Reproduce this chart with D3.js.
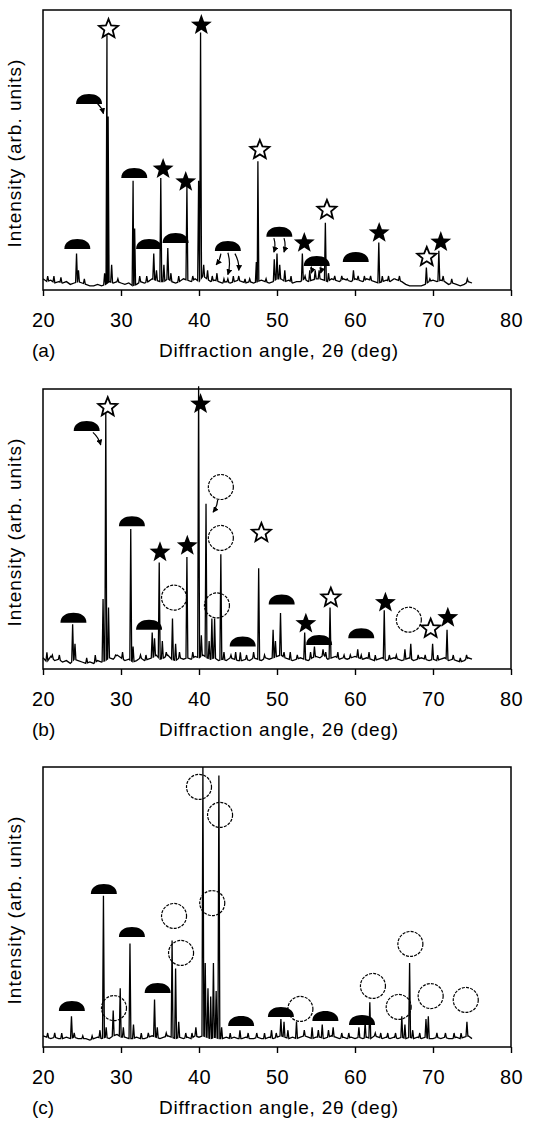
<!DOCTYPE html>
<html><head><meta charset="utf-8">
<script src="https://cdn.jsdelivr.net/npm/d3@7"></script>
<style>
body{margin:0;background:#fff;}
svg{display:block;}
text{font-family:"Liberation Sans",Arial,Helvetica,sans-serif;fill:#000;}
</style></head>
<body>
<svg id="chart" width="558" height="1121"></svg>
<script>
// ---------------- DATA ----------------
const xTicks = [20, 30, 40, 50, 60, 70, 80];
const panelLabels = ["(a)", "(b)", "(c)"];
const xTitle = "Diffraction angle, 2\u03b8 (deg)";
const yTitle = "Intensity (arb. units)";
const baseStart = 20, baseStep = 0.5;

// baseline intensity (%), 20.0 .. 75.0 every 0.5 deg
const baseA = [4,3,3.5,2.5,3,2.5,3,2,2.5,3,2.5,
  2,1.5,1.5,2,1.5,2,3,2.5,3,2.5,
  2,2.5,1.5,2,3,2.5,3,4,3.5,3,
  3,4,3,2.5,3,4,3.5,3,4,3,
  5,4,3,3.5,3,2.5,3,2.5,3,3.5,
  3,2.5,3,2.5,3,3.5,3,2.5,3,4,
  4,3,3.5,2.5,3,3,4,3,3.5,4,
  4,3.5,3,4,3.5,3,4,3.5,3,4,
  3.5,3,4,3.5,3,2.5,3,3.5,3,4,
  3.5,3,2,1.5,1.5,1.5,1.5,2,3,3.5,
  3,3.5,3,2,2.5,2,1.5,2,3,2.5];
const baseB = [4,2.5,4.5,3,3.5,2.5,3,2,3.5,3,2.5,
  2,2.5,2,3,2.5,3,4,3.5,5,4,
  3,3.5,2.5,3,4,3,3.5,4,5,3.5,
  4,5,3.5,3,4,3.5,4,3.5,4.5,4,
  5,4,3.5,4,3,3.5,3,4,3.5,3,
  3,3.5,3,4,3.5,3,4,3.5,4,4.5,
  5,4,3.5,3,3.5,4,3.5,3,4,4.5,
  4,5,3.5,4,4.5,3.5,4,3.5,4,4.5,
  4,3.5,4,3.5,3,3.5,4,3,3.5,4,
  3.5,3,3.5,4,3,3.5,4,3.5,3,3.5,
  3,3.5,4,3,3.5,3,2.5,3,4,3.5];
const baseC = [4,3.5,3,3.5,3,3,3.5,3,3.5,3,3,
  3,2.5,3,3.5,3,3.5,3,4,4.5,3.5,
  3.5,3,3,3.5,3,3,3.5,4,3.5,3,
  3.5,4,3.5,3,3.5,3,3.5,3,4,3.5,
  4,3.5,3,3.5,3,3,3.5,3,3.5,3,
  3,3.5,3,3,3.5,3,3,3.5,3,3.5,
  4,3.5,3,3.5,3,3.5,4,3.5,3,3.5,
  3.5,3,3.5,4,3.5,3,3.5,3,3.5,3,
  3.5,3,3.5,3,4,3.5,3,3.5,3,3.5,
  3,3.5,3,3.5,3,3.5,3,3.5,3,3,
  3.5,3,3.5,3,3,3.5,3,3.5,4,3];

// peaks [angle, intensity %]
const peaksA = [[20.6,5],[21.4,5],[22.3,4.5],[24.3,13],[24.55,7],[25.3,4],[27.9,6],[28.2,91],[28.35,62],[28.8,9],
  [29.6,4],[31.55,39],[31.75,22],[32.4,5],[33.3,5],[34.2,13],[34.55,7],[35.1,40],[35.5,9],[36.0,15],[36.4,6],
  [37.4,5],[38.45,37],[39.2,5],[39.95,39],[40.2,92],[40.6,9],[41.1,7],[41.7,5],[42.3,6],[43.2,4],[43.7,4],[44.4,5],[45.1,5],
  [45.9,4],[46.5,4],[47.35,10],[47.55,46],[48.6,4],[49.65,11],[50.0,13],[50.35,9],[51.0,7],[51.8,5],[53.25,13],[53.6,5],
  [54.2,7],[54.9,7],[55.4,7],[56.2,24],[56.6,6],[57.4,5],[58.3,5],[59.0,4],[59.8,7],[60.4,5],[61.2,5],[62.0,5],
  [63.05,17],[63.5,5],[64.3,5],[65.1,4],[65.7,5],[69.15,8],[69.6,4],[70.75,14],[71.3,5],[72.4,4],[74.4,4]];
const peaksB = [[20.5,6],[21.2,5],[22.1,5],[23.8,16],[24.1,9],[25.6,4],[26.7,5],[27.7,25],[28.05,92],[28.4,22],
  [29.3,5],[30.2,6],[31.25,50],[31.55,8],[32.5,5],[33.2,5],[34.0,13],[34.3,11],[34.9,38],[35.3,10],[35.8,6],[36.6,18],[37.0,9],
  [37.5,6],[38.45,40],[39.2,6],[39.95,101],[40.3,12],[40.9,59],[41.3,10],[41.65,18],[42.0,18],[42.8,41],[43.2,6],
  [44.1,5],[44.7,6],[45.3,6],[46.1,5],[47.0,6],[47.65,36],[48.4,5],[49.5,14],[49.8,10],[50.45,20],[50.9,6],[51.7,6],[52.6,5],
  [53.55,13],[54.3,6],[54.8,8],[55.9,7],[56.25,6],[56.8,22],[57.8,6],[58.6,5],[59.4,5],[60.35,7],[60.8,5],[61.8,6],[62.6,5],
  [63.75,21],[64.4,5],[65.3,5],[66.4,7],[67.15,9],[68.1,5],[69.0,5],[69.95,9],[70.6,5],[71.8,14],[72.6,5],[73.5,4],[74.3,5]];
const peaksC = [[20.6,5],[21.5,5],[22.4,5],[23.65,11],[24.0,5],[25.1,4],[26.3,4],[27.3,6],[27.75,54],[28.1,7],[29.0,13],
  [29.9,21],[30.3,7],[31.15,37],[31.6,8],[32.6,5],[33.5,5],[34.3,17],[34.65,7],[35.8,5],[36.55,38],[37.0,28],[37.4,9],
  [38.3,5],[39.1,5],[39.6,7],[40.5,100],[40.8,30],[41.15,21],[41.5,18],[41.85,30],[42.2,20],[42.55,97],[42.9,7],
  [44.0,5],[45.25,6],[46.3,5],[47.4,5],[48.4,5],[49.3,6],[49.9,5],[50.5,10],[50.9,9],[51.4,6],[52.5,9],[53.5,6],[54.5,7],
  [55.3,6],[55.8,8],[56.6,6],[57.2,7],[58.3,5],[59.2,5],[60.5,7],[61.3,9],[61.9,16],[62.6,5],[63.3,5],[64.2,5],
  [65.2,5],[66.0,11],[66.4,8],[67.0,30],[67.4,6],[68.3,5],[69.1,10],[69.4,11],[70.5,5],[71.6,5],[72.7,5],[73.6,5],[74.35,9]];

// markers [type, angle, intensity]  (dome: base level; star/circle: centre)
const markersA = [["dome",24.4,14.6],["ostar",28.4,93.2],["dome",25.9,66.4],["dome",31.7,40],["fstar",35.4,43.2],
  ["dome",33.6,14.6],["dome",37.0,16.8],["fstar",38.3,38.6],["fstar",40.3,94.6],["dome",43.7,13.9],["ostar",47.8,50],
  ["dome",50.3,19],["fstar",53.5,16.8],["dome",55.1,8.6],["ostar",56.4,28.6],["dome",60.1,10],["fstar",63.1,20.4],
  ["ostar",69.2,11.8],["fstar",71.0,17.1]];
const markersB = [["dome",23.9,16.5],["dome",25.6,85],["ostar",28.3,93.5],["dome",31.4,51],["fstar",35.0,41.7],
  ["dome",33.6,14],["circle",36.8,25.5],["fstar",38.5,44],["fstar",40.2,94.6],["circle",42.8,65],["circle",42.8,46.8],
  ["circle",42.3,22.7],["dome",45.6,8],["ostar",48.0,48.6],["dome",50.6,23],["fstar",53.7,16.2],["dome",55.4,8.6],
  ["ostar",56.9,25.5],["dome",60.8,11],["fstar",63.9,23.7],["circle",66.9,17.6],["ostar",69.7,14.4],["fstar",71.9,18.3]];
const markersC = [["dome",23.7,12.9],["dome",27.8,54.6],["circle",29.1,13.9],["dome",31.4,39.3],["dome",34.7,19.3],
  ["circle",36.8,46.8],["circle",37.7,33.6],["circle",40.0,92.9],["circle",42.7,82.9],["circle",41.7,51.4],
  ["dome",45.4,7.5],["dome",50.5,10.7],["circle",53.0,13.6],["dome",56.2,9.3],["dome",60.9,7.9],["circle",62.3,21.8],
  ["circle",65.6,14.3],["circle",67.1,36.8],["circle",69.7,18.2],["circle",74.2,16.8]];

// arrows [fromAngle, fromInt, toAngle, toInt]
const arrowsA = [[27.0,66.5,27.75,63],[42.8,13,42.2,9],[43.7,13.3,43.7,5.5],[44.6,13,45.1,7],
  [49.6,18.5,49.6,13.5],[50.9,18.5,50.9,13.5],[54.4,8.4,54.4,6],[55.6,8.4,55.6,6]];
const arrowsB = [[26.4,84.5,27.4,80],[42.4,60.4,41.8,56]];
const arrowsC = [];

// ---------------- DRAW ----------------
const svg = d3.select("#chart");
const W = {left:43, right:511};
const panelTop = [10, 389, 767], panelH = 280;
const x = d3.scaleLinear().domain([20,80]).range([W.left, W.right]);

const defs = svg.append("defs");
defs.append("marker").attr("id","ah").attr("viewBox","0 0 10 10").attr("refX",9).attr("refY",5)
  .attr("markerWidth",6).attr("markerHeight",6).attr("markerUnits","userSpaceOnUse").attr("orient","auto")
  .append("path").attr("d","M0,0L10,5L0,10Z").attr("fill","#000");

function starPath(R, r){
  const pts = d3.range(10).map(i=>{
    const a = -Math.PI/2 + i*Math.PI/5, rr = i%2===0 ? R : r;
    return [rr*Math.cos(a), rr*Math.sin(a)];
  });
  return "M" + pts.map(p=>p.join(",")).join("L") + "Z";
}

const panels = [
  {base:baseA, peaks:peaksA, markers:markersA, arrows:arrowsA},
  {base:baseB, peaks:peaksB, markers:markersB, arrows:arrowsB},
  {base:baseC, peaks:peaksC, markers:markersC, arrows:arrowsC}
];

panels.forEach((P, k)=>{
  const top = panelTop[k], bot = top + panelH;
  const y = d3.scaleLinear().domain([0,100]).range([bot, top]);
  const g = svg.append("g");

  // profile
  const grid = P.base.map((v,i)=>[baseStart + i*baseStep, v]);
  const bf = d3.scaleLinear().domain(grid.map(d=>d[0])).range(grid.map(d=>d[1]));
  const hw = 0.12;
  let pts = grid.filter(d=>!P.peaks.some(p=>Math.abs(p[0]-d[0])<hw));
  P.peaks.forEach(([a,h])=>{ pts.push([a-hw,bf(a-hw)],[a,h],[a+hw,bf(a+hw)]); });
  pts.sort((p,q)=>p[0]-q[0]);
  g.append("path").datum(pts)
    .attr("d", d3.line().x(d=>x(d[0])).y(d=>y(d[1])))
    .attr("fill","none").attr("stroke","#000").attr("stroke-width",1.3).attr("stroke-linejoin","miter");

  // frame
  g.append("rect").attr("x",W.left).attr("y",top).attr("width",W.right-W.left).attr("height",panelH)
    .attr("fill","none").attr("stroke","#000").attr("stroke-width",1.5);

  // axis
  const ax = g.append("g").attr("transform",`translate(0,${bot})`)
    .call(d3.axisBottom(x).tickValues(xTicks).tickSize(6).tickPadding(17).tickFormat(d3.format("d")));
  ax.select(".domain").remove();
  ax.selectAll(".tick line").attr("stroke","#000").attr("stroke-width",1.4);
  ax.selectAll(".tick text").attr("font-size",20).attr("letter-spacing","0.5px")
    .attr("font-family","'Liberation Sans',Arial,sans-serif").attr("fill","#000");

  // titles
  g.append("text").attr("x",32).attr("y",bot+67).attr("font-size",19).text(panelLabels[k]);
  g.append("text").attr("x",(W.left+W.right)/2+2).attr("y",bot+67).attr("font-size",19)
    .attr("text-anchor","middle").attr("letter-spacing","0.8px").text(xTitle);
  g.append("text").attr("transform",`translate(21,${(top+bot)/2+3}) rotate(-90)`)
    .attr("font-size",19).attr("text-anchor","middle").attr("letter-spacing","1px").text(yTitle);

  // arrows
  P.arrows.forEach(([a1,i1,a2,i2])=>{
    const x1=x(a1), y1=y(i1), x2=x(a2), y2=y(i2);
    const mx=(x1+x2)/2 + (y2-y1)*0.15, my=(y1+y2)/2 - (x2-x1)*0.15;
    g.append("path").attr("d",`M${x1},${y1}Q${mx},${my} ${x2},${y2}`)
      .attr("fill","none").attr("stroke","#000").attr("stroke-width",1.2).attr("marker-end","url(#ah)");
  });

  // markers
  P.markers.forEach(([t,a,v])=>{
    const cx = x(a), cy = y(v);
    if(t==="dome"){
      g.append("path").attr("d","M-13,0 C-13,-7 -7,-10 0,-10 C7,-10 13,-7 13,0 Z")
        .attr("transform",`translate(${cx},${cy})`).attr("fill","#000");
    } else if(t==="fstar"){
      g.append("path").attr("d",starPath(11,4.6)).attr("transform",`translate(${cx},${cy})`).attr("fill","#000");
    } else if(t==="ostar"){
      g.append("path").attr("d",starPath(10,4.4)).attr("transform",`translate(${cx},${cy})`)
        .attr("fill","#fff").attr("stroke","#000").attr("stroke-width",1.8).attr("stroke-linejoin","miter");
    } else {
      g.append("circle").attr("cx",cx).attr("cy",cy).attr("r",12.5)
        .attr("fill","none").attr("stroke","#000").attr("stroke-width",1.2).attr("stroke-dasharray","3,1.2");
    }
  });
});
</script>
</body></html>
